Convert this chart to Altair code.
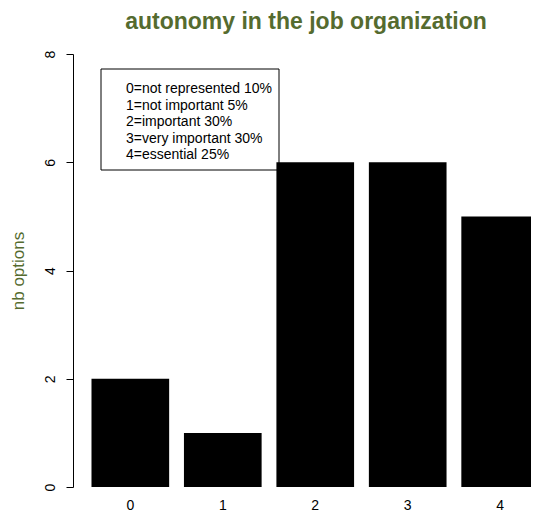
import altair as alt
import pandas as pd

categories = ["0", "1", "2", "3", "4"]
counts = [2, 1, 6, 6, 5]
y_ticks = [0, 2, 4, 6, 8]
legend_lines = [
    "0=not represented 10%",
    "1=not important 5%",
    "2=important 30%",
    "3=very important 30%",
    "4=essential 25%",
]
title_text = "autonomy in the job organization"
y_title = "nb options"

FONT = "Liberation Sans"
OLIVE = "#556B2F"
W, H = 458, 433   # visible plot area (svg is 523 x 503)
RANGE_W = 466     # band scale range, last bar runs to the window edge

bars_df = pd.DataFrame({"cat": categories, "n": counts})
legend_df = pd.DataFrame({"label": ["\n".join(legend_lines)]})

bars = alt.Chart(bars_df).mark_bar(color="black", strokeWidth=0).encode(
    x=alt.X(
        "cat:N",
        sort=categories,
        scale=alt.Scale(paddingInner=0.16, paddingOuter=0.1, align=1,
                        range=[0, RANGE_W]),
        axis=alt.Axis(
            title=None, labelAngle=0, domain=False, ticks=False, tickSize=0,
            labelBaseline="alphabetic", labelPadding=22, labelFontSize=14,
            labelFont=FONT, labelColor="black",
        ),
    ),
    y=alt.Y(
        "n:Q",
        scale=alt.Scale(domain=[0, 8], nice=False, zero=True),
        axis=alt.Axis(
            values=y_ticks, grid=False, tickSize=7, tickColor="black",
            domainColor="black", labelAngle=270, labelAlign="center",
            labelBaseline="alphabetic", labelPadding=12, labelFontSize=14,
            labelFont=FONT, labelColor="black",
            title=y_title, titleColor=OLIVE, titleFont=FONT, titleFontSize=17,
            titleFontWeight="normal", titleAngle=270, titleAlign="center",
            titleBaseline="middle", titleX=-55, titleY=H / 2,
        ),
    ),
)

box = alt.Chart(legend_df).mark_rect(
    fill="white", fillOpacity=0, stroke="black", strokeWidth=1
).encode(
    x=alt.value(28), x2=alt.value(206), y=alt.value(15), y2=alt.value(116)
)

text = alt.Chart(legend_df).mark_text(
    align="left", baseline="alphabetic", lineBreak="\n", lineHeight=16.5,
    fontSize=14, font=FONT, color="black",
).encode(
    text="label:N", x=alt.value(53), y=alt.value(39)
)

chart = (
    alt.layer(bars, box, text)
    .properties(
        width=W,
        height=H,
        title=alt.TitleParams(
            title_text, font=FONT, fontSize=23, fontWeight="bold",
            color=OLIVE, anchor="middle", frame="group", baseline="alphabetic",
            offset=0, dx=4, dy=2,
        ),
        autosize=alt.AutoSizeParams(type="none"),
        padding={"left": 65, "top": 46, "right": 0, "bottom": 24},
        background="white",
    )
    .configure_view(stroke=None)
)

chart.save("out.html", embed_options={"renderer": "svg", "actions": False})
